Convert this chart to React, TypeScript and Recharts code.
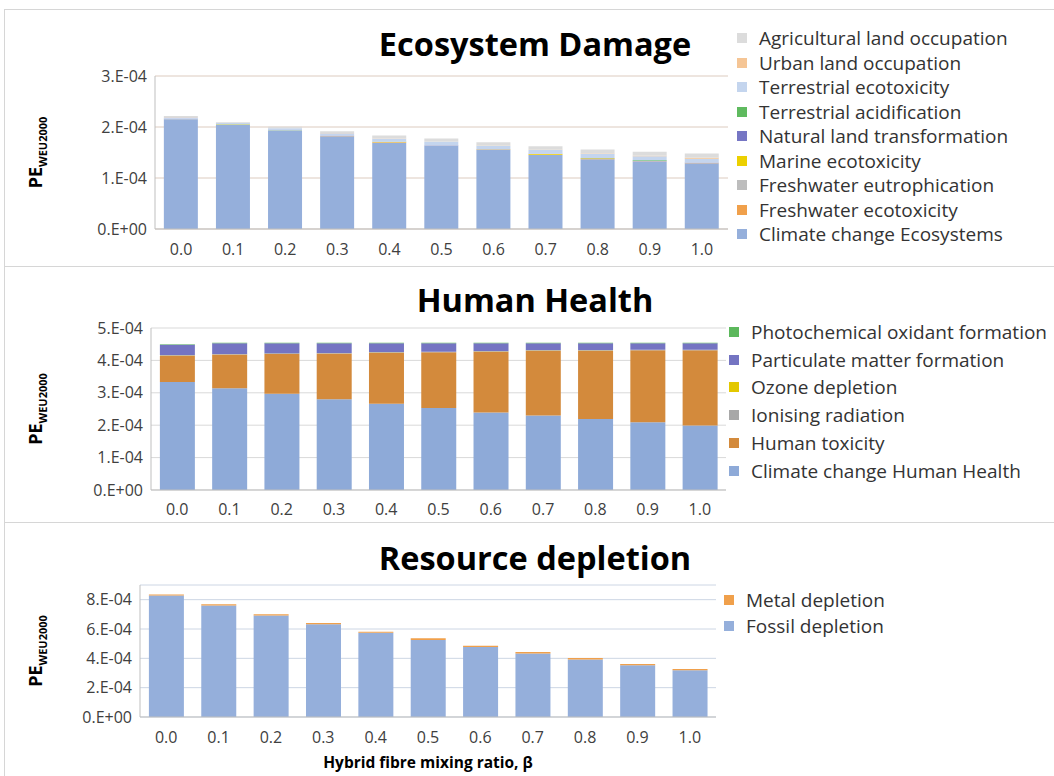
import React from 'react';
import { BarChart, Bar, XAxis, YAxis, CartesianGrid, Legend } from 'recharts';

const FONT = "'Open Sans', 'DejaVu Sans', sans-serif";

const categories = ['0.0', '0.1', '0.2', '0.3', '0.4', '0.5', '0.6', '0.7', '0.8', '0.9', '1.0'];

// Ecosystem Damage (PE WEU2000)
const ecoClimate = [2.15e-4, 2.04e-4, 1.92e-4, 1.82e-4, 1.69e-4, 1.63e-4, 1.55e-4, 1.45e-4, 1.37e-4, 1.32e-4, 1.29e-4];
const ecoFreshEco = [0.003e-4, 0.003e-4, 0.004e-4, 0.004e-4, 0.01e-4, 0.004e-4, 0.004e-4, 0.005e-4, 0.01e-4, 0.005e-4, 0.005e-4];
const ecoFreshEut = [0.002e-4, 0.002e-4, 0.002e-4, 0.002e-4, 0.002e-4, 0.002e-4, 0.002e-4, 0.002e-4, 0.002e-4, 0.002e-4, 0.002e-4];
const ecoMarine = [0.002e-4, 0.002e-4, 0.002e-4, 0.002e-4, 0.002e-4, 0.002e-4, 0.002e-4, 0.015e-4, 0.003e-4, 0.003e-4, 0.003e-4];
const ecoNatural = [0.003e-4, 0.003e-4, 0.004e-4, 0.004e-4, 0.003e-4, 0.004e-4, 0.004e-4, 0.003e-4, 0.003e-4, 0.003e-4, 0.003e-4];
const ecoTerrAcid = [0.002e-4, 0.002e-4, 0.002e-4, 0.002e-4, 0.002e-4, 0.002e-4, 0.002e-4, 0.002e-4, 0.003e-4, 0.015e-4, 0.003e-4];
const ecoTerrEco = [0.03e-4, 0.025e-4, 0.04e-4, 0.045e-4, 0.06e-4, 0.065e-4, 0.065e-4, 0.07e-4, 0.08e-4, 0.08e-4, 0.07e-4];
const ecoUrban = [0.002e-4, 0.002e-4, 0.003e-4, 0.003e-4, 0.004e-4, 0.004e-4, 0.005e-4, 0.006e-4, 0.01e-4, 0.008e-4, 0.02e-4];
const ecoAgri = [0.02e-4, 0.015e-4, 0.03e-4, 0.035e-4, 0.06e-4, 0.06e-4, 0.065e-4, 0.07e-4, 0.08e-4, 0.08e-4, 0.085e-4];
const ecoTicks = [0, 1e-4, 2e-4, 3e-4];

// Human Health
const hhClimate = [3.33e-4, 3.14e-4, 2.97e-4, 2.80e-4, 2.66e-4, 2.53e-4, 2.39e-4, 2.30e-4, 2.19e-4, 2.09e-4, 1.99e-4];
const hhToxicity = [0.815e-4, 1.045e-4, 1.225e-4, 1.415e-4, 1.575e-4, 1.725e-4, 1.875e-4, 1.995e-4, 2.105e-4, 2.225e-4, 2.325e-4];
const hhIonising = [0.01e-4, 0.01e-4, 0.01e-4, 0.01e-4, 0.01e-4, 0.01e-4, 0.01e-4, 0.01e-4, 0.01e-4, 0.01e-4, 0.01e-4];
const hhOzone = [0.005e-4, 0.005e-4, 0.005e-4, 0.005e-4, 0.005e-4, 0.005e-4, 0.005e-4, 0.005e-4, 0.005e-4, 0.005e-4, 0.005e-4];
const hhParticulate = [0.32e-4, 0.33e-4, 0.32e-4, 0.30e-4, 0.28e-4, 0.26e-4, 0.25e-4, 0.22e-4, 0.22e-4, 0.20e-4, 0.20e-4];
const hhPhotochem = [0.015e-4, 0.015e-4, 0.015e-4, 0.015e-4, 0.015e-4, 0.015e-4, 0.015e-4, 0.015e-4, 0.015e-4, 0.015e-4, 0.015e-4];
const hhTicks = [0, 1e-4, 2e-4, 3e-4, 4e-4, 5e-4];

// Resource depletion
const rdFossil = [8.28e-4, 7.60e-4, 6.92e-4, 6.32e-4, 5.75e-4, 5.25e-4, 4.77e-4, 4.33e-4, 3.92e-4, 3.52e-4, 3.18e-4];
const rdMetal = [0.07e-4, 0.09e-4, 0.09e-4, 0.09e-4, 0.07e-4, 0.12e-4, 0.09e-4, 0.10e-4, 0.10e-4, 0.10e-4, 0.10e-4];
const rdTicks = [0, 2e-4, 4e-4, 6e-4, 8e-4];

type Series = { key: string; name: string; color: string; values: number[] };

const ecoSeries: Series[] = [
  { key: 'climate', name: 'Climate change Ecosystems', color: '#95afdb', values: ecoClimate },
  { key: 'freshEco', name: 'Freshwater ecotoxicity', color: '#f0a04b', values: ecoFreshEco },
  { key: 'freshEut', name: 'Freshwater eutrophication', color: '#bdbdbd', values: ecoFreshEut },
  { key: 'marine', name: 'Marine ecotoxicity', color: '#ecd000', values: ecoMarine },
  { key: 'natural', name: 'Natural land transformation', color: '#7676c4', values: ecoNatural },
  { key: 'terrAcid', name: 'Terrestrial acidification', color: '#5fba5f', values: ecoTerrAcid },
  { key: 'terrEco', name: 'Terrestrial ecotoxicity', color: '#c4d5ee', values: ecoTerrEco },
  { key: 'urban', name: 'Urban land occupation', color: '#f5c595', values: ecoUrban },
  { key: 'agri', name: 'Agricultural land occupation', color: '#dcdcdc', values: ecoAgri },
];

const hhSeries: Series[] = [
  { key: 'climate', name: 'Climate change Human Health', color: '#8eaad8', values: hhClimate },
  { key: 'tox', name: 'Human toxicity', color: '#d38a3c', values: hhToxicity },
  { key: 'ion', name: 'Ionising radiation', color: '#a8a8a8', values: hhIonising },
  { key: 'ozone', name: 'Ozone depletion', color: '#e3c800', values: hhOzone },
  { key: 'pm', name: 'Particulate matter formation', color: '#7474c2', values: hhParticulate },
  { key: 'photo', name: 'Photochemical oxidant formation', color: '#5cb85c', values: hhPhotochem },
];

const rdSeries: Series[] = [
  { key: 'fossil', name: 'Fossil depletion', color: '#95afdb', values: rdFossil },
  { key: 'metal', name: 'Metal depletion', color: '#f0a04b', values: rdMetal },
];

const buildData = (series: Series[]) =>
  categories.map((c, i) => {
    const row: Record<string, any> = { cat: c };
    series.forEach((s) => {
      row[s.key] = s.values[i];
    });
    return row;
  });

const fmt = (v: number) => (v === 0 ? '0.E+00' : `${Math.round(v * 1e4)}.E-04`);

const LegendBox = ({ items, rowH }: { items: Series[]; rowH: number }) => (
  <div style={{ fontFamily: FONT, fontSize: 19, color: '#333' }}>
    {[...items].reverse().map((it) => (
      <div key={it.key} style={{ display: 'flex', alignItems: 'center', height: rowH }}>
        <span style={{ width: 10, height: 10, background: it.color, marginRight: 12, flex: 'none' }} />
        <span style={{ whiteSpace: 'nowrap' }}>{it.name}</span>
      </div>
    ))}
  </div>
);

const yLabel = (labelX: number) => (props: any) => {
  const vb = props.viewBox || {};
  const cy = vb.y + vb.height / 2;
  return (
    <text
      transform={`translate(${labelX},${cy}) rotate(-90)`}
      textAnchor="middle"
      fontFamily={FONT}
      fontWeight="bold"
      fontSize={18}
      fill="#000"
    >
      PE
      <tspan fontSize={11} dy={5}>
        WEU2000
      </tspan>
    </text>
  );
};

const tickStyle = { fontFamily: FONT, fontSize: 16, fill: '#404040' };

type PanelProps = {
  top: number;
  height: number;
  title: string;
  titleY: number;
  series: Series[];
  margin: { top: number; right: number; bottom: number; left: number };
  yWidth: number;
  xHeight: number;
  domain: [number, number];
  ticks: number[];
  legendPos: { left: number; top: number };
  rowH: number;
  gridColor: string;
  tickMargin: number;
  xLabel?: string;
};

const Panel = (p: PanelProps) => {
  const data = buildData(p.series);
  return (
    <div style={{ position: 'absolute', left: 0, top: p.top, width: 1054, height: p.height }}>
      <div
        style={{
          position: 'absolute',
          left: 0,
          width: 1070,
          textAlign: 'center',
          top: p.titleY - 22,
          height: 44,
          lineHeight: '44px',
          fontFamily: FONT,
          fontWeight: 'bold',
          fontSize: 32.5,
          color: '#000',
        }}
      >
        {p.title}
      </div>
      <BarChart
        width={1054}
        height={p.height}
        data={data}
        margin={p.margin}
        barCategoryGap="17%"
        style={{ position: 'absolute', left: 0, top: 0 }}
      >
        <CartesianGrid vertical={false} stroke={p.gridColor} />
        <XAxis
          dataKey="cat"
          tickLine={false}
          stroke="#bfbfbf"
          height={p.xHeight}
          tick={tickStyle}
          tickMargin={p.tickMargin}
          interval={0}
          label={
            p.xLabel
              ? (props: any) => {
                  const vb = props.viewBox || {};
                  return (
                    <text
                      x={vb.x + vb.width / 2}
                      y={vb.y + 51}
                      textAnchor="middle"
                      fontFamily={FONT}
                      fontWeight="bold"
                      fontSize={15.5}
                      fill="#000"
                    >
                      {p.xLabel}
                    </text>
                  );
                }
              : undefined
          }
        />
        <YAxis
          width={p.yWidth}
          domain={p.domain}
          ticks={p.ticks}
          tickFormatter={fmt}
          tickLine={false}
          stroke="#bfbfbf"
          tick={tickStyle}
          allowDataOverflow
          label={yLabel(42)}
        />
        <Legend
          layout="vertical"
          align="center"
          verticalAlign="middle"
          wrapperStyle={{ left: p.legendPos.left, top: p.legendPos.top, width: 330 }}
          content={() => <LegendBox items={p.series} rowH={p.rowH} />}
        />
        {p.series.map((s) => (
          <Bar key={s.key} dataKey={s.key} name={s.name} stackId="a" fill={s.color} isAnimationActive={false} />
        ))}
      </BarChart>
    </div>
  );
};

export default function App() {
  return (
    <div
      style={{
        position: 'absolute',
        left: 0,
        top: 0,
        width: 1054,
        height: 776,
        overflow: 'hidden',
        background: '#fff',
      }}
    >
      <Panel
        top={0}
        height={266}
        title="Ecosystem Damage"
        titleY={44}
        series={ecoSeries}
        margin={{ top: 76, right: 326, bottom: 7, left: 60 }}
        yWidth={95}
        xHeight={30}
        domain={[0, 3e-4]}
        ticks={ecoTicks}
        legendPos={{ left: 737, top: 26 }}
        rowH={24.5}
        gridColor="#dccbbf"
        tickMargin={9}
      />
      <Panel
        top={266}
        height={256}
        title="Human Health"
        titleY={34}
        series={hhSeries}
        margin={{ top: 62, right: 328, bottom: 4, left: 56 }}
        yWidth={95}
        xHeight={28}
        domain={[0, 5e-4]}
        ticks={hhTicks}
        legendPos={{ left: 729, top: 52 }}
        rowH={27.8}
        gridColor="#d9d9d9"
        tickMargin={8}
      />
      <Panel
        top={522}
        height={254}
        title="Resource depletion"
        titleY={36}
        series={rdSeries}
        margin={{ top: 63, right: 338, bottom: 6, left: 47 }}
        yWidth={93}
        xHeight={53}
        domain={[0, 9e-4]}
        ticks={rdTicks}
        legendPos={{ left: 724, top: 65 }}
        rowH={26}
        gridColor="#cdd6e4"
        tickMargin={9}
        xLabel="Hybrid fibre mixing ratio, β"
      />
      <div style={{ position: 'absolute', left: 4, top: 9, width: 1060, height: 0, borderTop: '1px solid #d6d6d6' }} />
      <div style={{ position: 'absolute', left: 4, top: 266, width: 1060, height: 0, borderTop: '1px solid #d6d6d6' }} />
      <div style={{ position: 'absolute', left: 4, top: 522, width: 1060, height: 0, borderTop: '1px solid #d6d6d6' }} />
      <div style={{ position: 'absolute', left: 4, top: 9, width: 0, height: 780, borderLeft: '1px solid #d6d6d6' }} />
    </div>
  );
}
